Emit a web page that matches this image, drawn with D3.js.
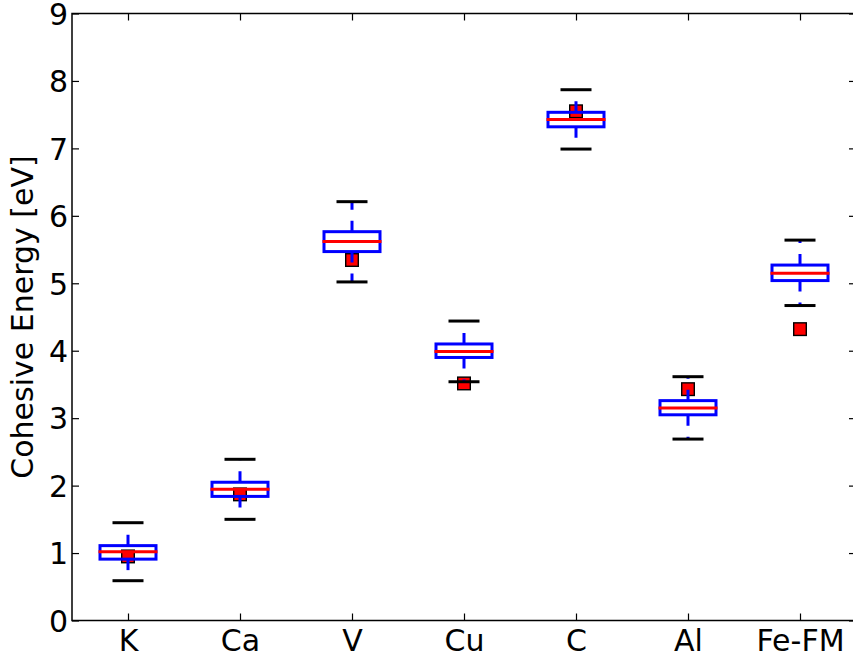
<!DOCTYPE html>
<html>
<head>
<meta charset="utf-8">
<script src="https://cdn.jsdelivr.net/npm/d3@7"></script>
<style>
  html, body { margin: 0; padding: 0; background: #fff; }
  svg { display: block; font-family: "DejaVu Sans", sans-serif; }
</style>
</head>
<body>
<div id="chart"></div>
<script>
// --- DATA ---
const categories  = ["K", "Ca", "V", "Cu", "C", "Al", "Fe-FM"];
const whiskerLow  = [0.59, 1.50, 5.02, 3.54, 6.99, 2.69, 4.67];
const q1          = [0.91, 1.84, 5.47, 3.90, 7.32, 3.05, 5.04];
const medians     = [1.02, 1.945, 5.62, 3.99, 7.43, 3.15, 5.15];
const q3          = [1.11, 2.05, 5.765, 4.10, 7.535, 3.26, 5.27];
const whiskerHigh = [1.45, 2.39, 6.21, 4.44, 7.87, 3.615, 5.64];
const reference   = [0.95, 1.87, 5.345, 3.515, 7.55, 3.43, 4.32];
const yTicks      = [0, 1, 2, 3, 4, 5, 6, 7, 8, 9];

// --- LAYOUT ---
const W = 853, H = 659;
const mLeft = 72, mRight = 856, mTop = 13.5, mBottom = 620.5;
const fontSize = 30;

const svg = d3.select("#chart").append("svg")
    .attr("width", W).attr("height", H);

const pos = categories.map((c, i) => i + 1);
const x = d3.scaleLinear().domain([0.5, 7.5]).range([mLeft, mRight]);
const y = d3.scaleLinear().domain([0, 9]).range([mBottom, mTop]);
const boxW = x(1.25) - x(1);   // half of box width 0.5
const capW = x(1.125) - x(1);

// reference values: red squares, drawn first so the boxes sit on top
svg.append("g").selectAll("rect").data(reference).join("rect")
    .attr("x", (d, i) => x(pos[i]) - 6.3)
    .attr("y", d => y(d) - 6.3)
    .attr("width", 12.6).attr("height", 12.6)
    .attr("fill", "#ff0000").attr("stroke", "#000").attr("stroke-width", 1.4);

const g = svg.append("g");

// whiskers (dashed, start at the box edge)
categories.forEach((c, i) => {
    g.append("line")
        .attr("x1", x(pos[i])).attr("x2", x(pos[i]))
        .attr("y1", y(q1[i])).attr("y2", y(whiskerLow[i]))
        .attr("stroke", "#0000ff").attr("stroke-width", 3)
        .attr("stroke-dasharray", "11 11");
    g.append("line")
        .attr("x1", x(pos[i])).attr("x2", x(pos[i]))
        .attr("y1", y(q3[i])).attr("y2", y(whiskerHigh[i]))
        .attr("stroke", "#0000ff").attr("stroke-width", 3)
        .attr("stroke-dasharray", "11 11");
});

// caps
[whiskerLow, whiskerHigh].forEach(arr => {
    g.append("g").selectAll("line").data(arr).join("line")
        .attr("x1", (d, i) => x(pos[i]) - capW).attr("x2", (d, i) => x(pos[i]) + capW)
        .attr("y1", d => y(d)).attr("y2", d => y(d))
        .attr("stroke", "#000").attr("stroke-width", 3)
        .attr("stroke-linecap", "square");
});

// boxes
g.append("g").selectAll("rect").data(categories).join("rect")
    .attr("x", (d, i) => x(pos[i]) - boxW)
    .attr("y", (d, i) => y(q3[i]))
    .attr("width", 2 * boxW)
    .attr("height", (d, i) => y(q1[i]) - y(q3[i]))
    .attr("fill", "none").attr("stroke", "#0000ff").attr("stroke-width", 3);

// medians
g.append("g").selectAll("line").data(medians).join("line")
    .attr("x1", (d, i) => x(pos[i]) - boxW).attr("x2", (d, i) => x(pos[i]) + boxW)
    .attr("y1", d => y(d)).attr("y2", d => y(d))
    .attr("stroke", "#ff0000").attr("stroke-width", 3)
    .attr("stroke-linecap", "square");

// --- AXES (classic style: inward ticks on all four sides) ---
const tickLen = 7;
const axisStyle = sel => {
    sel.select(".domain").remove();
    sel.selectAll(".tick line").attr("stroke", "#000").attr("stroke-width", 1.2);
    sel.selectAll(".tick text").attr("font-size", fontSize)
        .attr("font-family", "DejaVu Sans").attr("fill", "#000");
};

svg.append("g").attr("transform", `translate(0,${mBottom})`)
    .call(d3.axisBottom(x).tickValues(pos).tickFormat((d, i) => categories[i])
        .tickSizeInner(-tickLen).tickSizeOuter(0))
    .call(axisStyle)
    .selectAll(".tick text").attr("dy", null).attr("y", 30);

svg.append("g").attr("transform", `translate(0,${mTop})`)
    .call(d3.axisTop(x).tickValues(pos).tickFormat("").tickSizeInner(-tickLen).tickSizeOuter(0))
    .call(axisStyle);

svg.append("g").attr("transform", `translate(${mLeft},0)`)
    .call(d3.axisLeft(y).tickValues(yTicks).tickFormat(d3.format("d"))
        .tickSizeInner(-tickLen).tickSizeOuter(0))
    .call(axisStyle)
    .selectAll(".tick text").attr("x", -4).attr("dy", "0.36em");

svg.append("g").attr("transform", `translate(${mRight},0)`)
    .call(d3.axisRight(y).tickValues(yTicks).tickFormat("").tickSizeInner(-tickLen).tickSizeOuter(0))
    .call(axisStyle);

// frame
svg.append("rect")
    .attr("x", mLeft).attr("y", mTop)
    .attr("width", mRight - mLeft).attr("height", mBottom - mTop)
    .attr("fill", "none").attr("stroke", "#000").attr("stroke-width", 1.5);

// y label
svg.append("text")
    .attr("transform", `translate(33,${(mTop + mBottom) / 2}) rotate(-90)`)
    .attr("text-anchor", "middle")
    .attr("font-size", fontSize)
    .text("Cohesive Energy [eV]");
</script>
</body>
</html>
